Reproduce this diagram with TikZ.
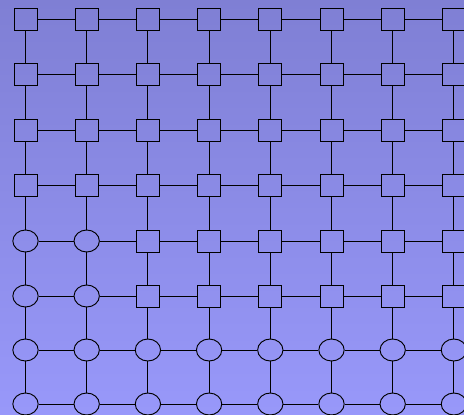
\documentclass[tikz,border=0pt]{standalone}
\usepackage{tikz}
\usetikzlibrary{shapes.geometric}

\definecolor{bgtop}{RGB}{127,127,212}
\definecolor{bgbot}{RGB}{152,152,250}

\begin{document}
\begin{tikzpicture}[x=0.03cm,y=-0.03cm,line width=0.8pt,
  sqnode/.style={draw,rectangle,inner sep=0pt,minimum width=0.69cm,minimum height=0.66cm},
  elnode/.style={draw,ellipse,inner sep=0pt,minimum width=0.76cm,minimum height=0.66cm}]
  \shade[top color=bgtop,bottom color=bgbot] (0,0) rectangle (464,415);
  \useasboundingbox (0,0) rectangle (464,415);
  % grid of cells
  \foreach \i in {1,...,8} \foreach \py [count=\j] in {19,74,130,185,241,296,350,404} {
    \pgfmathsetmacro\px{25.5+61.2*(\i-1)}
    \ifnum\j>6 \def\shp{elnode}\else\ifnum\j>4 \ifnum\i<3 \def\shp{elnode}\else\def\shp{sqnode}\fi\else\def\shp{sqnode}\fi\fi
    \node[\shp] (n-\i-\j) at (\px,\py) {};
  }
  % links
  \foreach \i [count=\k from 2] in {1,...,7} \foreach \j in {1,...,8}
    \draw (n-\i-\j) -- (n-\k-\j);
  \foreach \j [count=\k from 2] in {1,...,7} \foreach \i in {1,...,8}
    \draw (n-\i-\j) -- (n-\i-\k);
\end{tikzpicture}
\end{document}
